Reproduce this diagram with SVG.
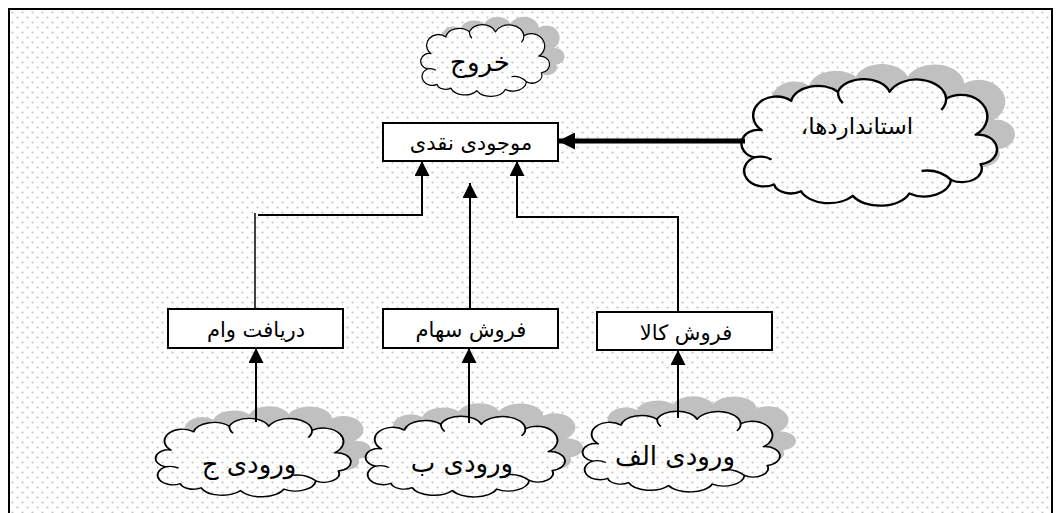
<svg xmlns="http://www.w3.org/2000/svg" xmlns:xlink="http://www.w3.org/1999/xlink" width="1056" height="513" viewBox="0 0 1056 513">
  <style>
    .box { fill: #ffffff; stroke: #000000; stroke-width: 2; }
    .lbl { font-family: "DejaVu Sans", "Noto Sans", sans-serif; font-size: 21px; fill: #000000; text-anchor: middle; direction: rtl; }
    .clbl { font-family: "DejaVu Sans", "Noto Sans", sans-serif; font-size: 26px; fill: #000000; text-anchor: middle; direction: rtl; }
    .shadow { fill: #c0c0c0; stroke: none; }
    .outline { fill: none; stroke: #000000; stroke-width: 2; vector-effect: non-scaling-stroke; stroke-linejoin: round; }
    .conn { fill: none; stroke: #000000; stroke-width: 2; }
    .thin { fill: none; stroke: #000000; stroke-width: 1.5; }
    .thick { fill: none; stroke: #000000; stroke-width: 5; }
  </style>
  <defs>
    <!-- staggered dot fill used for the page and cloud interiors -->
    <pattern id="dots" patternUnits="userSpaceOnUse" width="10" height="10">
      <rect width="10" height="10" fill="#ffffff"/>
      <circle cx="2.5" cy="2.5" r="1.1" fill="#c4c4c4"/>
      <circle cx="7.5" cy="7.5" r="1.1" fill="#c4c4c4"/>
    </pattern>
    <!-- unit cloud, 200 x 100 -->
    <path id="cloud" d="M26,88 A13,11 0 0 1 10,64 A12,11 0 0 1 16,40 A18,16 0 0 1 40,14 A22,16 0 0 1 78,6 A22,16 0 0 1 120,6 A24,18 0 0 1 166,12 A20,18 0 0 1 190,44 A14,12 0 0 1 194,70 A16,12 0 0 1 170,84 A22,16 0 0 1 136,96 A25,16 0 0 1 90,98 A24,16 0 0 1 48,94 A14,10 0 0 1 26,88 Z"/>
    <path id="hooks" d="M170,84 Q160,74 146,76 M10,64 Q18,62 24,66 M78,6 Q78,12 82,16 M166,12 Q166,18 162,22"/>
    <clipPath id="clipOut"><use xlink:href="#cloud" transform="translate(421,28) scale(0.62,0.64)"/></clipPath>
    <clipPath id="clipStd"><use xlink:href="#cloud" transform="translate(742,85) scale(1.23,1.13)"/></clipPath>
    <clipPath id="clipC"><use xlink:href="#cloud" transform="translate(156,422) scale(0.94,0.70)"/></clipPath>
    <clipPath id="clipB"><use xlink:href="#cloud" transform="translate(366,420) scale(0.96,0.72)"/></clipPath>
    <clipPath id="clipA"><use xlink:href="#cloud" transform="translate(583,415) scale(0.95,0.72)"/></clipPath>
    <marker id="ah" markerUnits="userSpaceOnUse" markerWidth="15" markerHeight="15" viewBox="0 0 15 15" refX="15" refY="7.5" orient="auto">
      <path d="M0,0 L15,7.5 L0,15 Z" fill="#000000"/>
    </marker>
    <marker id="ahBig" markerUnits="userSpaceOnUse" markerWidth="17" markerHeight="17" viewBox="0 0 17 17" refX="17" refY="8.5" orient="auto">
      <path d="M0,0 L17,8.5 L0,17 Z" fill="#000000"/>
    </marker>
  </defs>

  <!-- page -->
  <rect x="0" y="0" width="1056" height="513" fill="#ffffff"/>
  <rect x="9" y="9" width="1043" height="520" fill="url(#dots)" stroke="#000000" stroke-width="2"/>

  <!-- clouds -->
  <g id="cloud-out">
    <use xlink:href="#cloud" class="shadow" transform="translate(436,20) scale(0.62,0.64)"/>
    <rect x="400" y="20" width="160" height="80" fill="url(#dots)" clip-path="url(#clipOut)"/>
    <g transform="translate(421,28) scale(0.62,0.64)">
      <use xlink:href="#cloud" class="outline"/>
      <use xlink:href="#hooks" class="outline"/>
    </g>
    <text class="clbl" x="480" y="71">خروج</text>
  </g>

  <g id="cloud-standards">
    <use xlink:href="#cloud" class="shadow" transform="translate(760,70) scale(1.23,1.13)"/>
    <rect x="730" y="80" width="270" height="125" fill="url(#dots)" clip-path="url(#clipStd)"/>
    <g transform="translate(742,85) scale(1.23,1.13)">
      <use xlink:href="#cloud" class="outline"/>
      <use xlink:href="#hooks" class="outline"/>
    </g>
    <text class="clbl" x="857" y="134" style="font-size:23px">استانداردها،</text>
  </g>

  <g id="cloud-c">
    <use xlink:href="#cloud" class="shadow" transform="translate(176,410) scale(0.94,0.70)"/>
    <rect x="150" y="415" width="200" height="85" fill="url(#dots)" clip-path="url(#clipC)"/>
    <g transform="translate(156,422) scale(0.94,0.70)">
      <use xlink:href="#cloud" class="outline"/>
      <use xlink:href="#hooks" class="outline"/>
    </g>
    <text class="clbl" x="249" y="473">ورودی ج</text>
  </g>

  <g id="cloud-b">
    <use xlink:href="#cloud" class="shadow" transform="translate(384,407) scale(0.96,0.72)"/>
    <rect x="360" y="415" width="205" height="85" fill="url(#dots)" clip-path="url(#clipB)"/>
    <g transform="translate(366,420) scale(0.96,0.72)">
      <use xlink:href="#cloud" class="outline"/>
      <use xlink:href="#hooks" class="outline"/>
    </g>
    <text class="clbl" x="462" y="472">ورودی ب</text>
  </g>

  <g id="cloud-a">
    <use xlink:href="#cloud" class="shadow" transform="translate(599,400) scale(0.95,0.72)"/>
    <rect x="575" y="408" width="205" height="85" fill="url(#dots)" clip-path="url(#clipA)"/>
    <g transform="translate(583,415) scale(0.95,0.72)">
      <use xlink:href="#cloud" class="outline"/>
      <use xlink:href="#hooks" class="outline"/>
    </g>
    <text class="clbl" x="675" y="465">ورودی الف</text>
  </g>

  <!-- boxes -->
  <g id="node-cash">
    <rect class="box" x="383" y="123" width="175" height="38"/>
    <text class="lbl" x="471" y="150">موجودی نقدی</text>
  </g>
  <g id="node-loan">
    <rect class="box" x="168" y="309" width="175" height="39"/>
    <text class="lbl" x="256" y="337">دریافت وام</text>
  </g>
  <g id="node-shares">
    <rect class="box" x="383" y="309" width="175" height="39"/>
    <text class="lbl" x="471" y="337">فروش سهام</text>
  </g>
  <g id="node-goods">
    <rect class="box" x="597" y="312" width="175" height="38"/>
    <text class="lbl" x="686" y="340">فروش کالا</text>
  </g>

  <!-- connectors -->
  <g id="connectors">
    <line class="thick" x1="745" y1="141" x2="558" y2="141" marker-end="url(#ahBig)"/>
    <line class="thin" x1="255" y1="213" x2="255" y2="309"/>
    <polyline class="conn" points="258,215 422,215 422,161" marker-end="url(#ah)"/>
    <line class="conn" x1="470" y1="309" x2="470" y2="183" marker-end="url(#ah)"/>
    <polyline class="conn" points="678,312 678,217 517,217 517,161" marker-end="url(#ah)"/>
    <line class="conn" x1="256" y1="422" x2="256" y2="348" marker-end="url(#ah)"/>
    <line class="conn" x1="469" y1="423" x2="469" y2="348" marker-end="url(#ah)"/>
    <line class="conn" x1="678" y1="418" x2="678" y2="350" marker-end="url(#ah)"/>
  </g>
</svg>
